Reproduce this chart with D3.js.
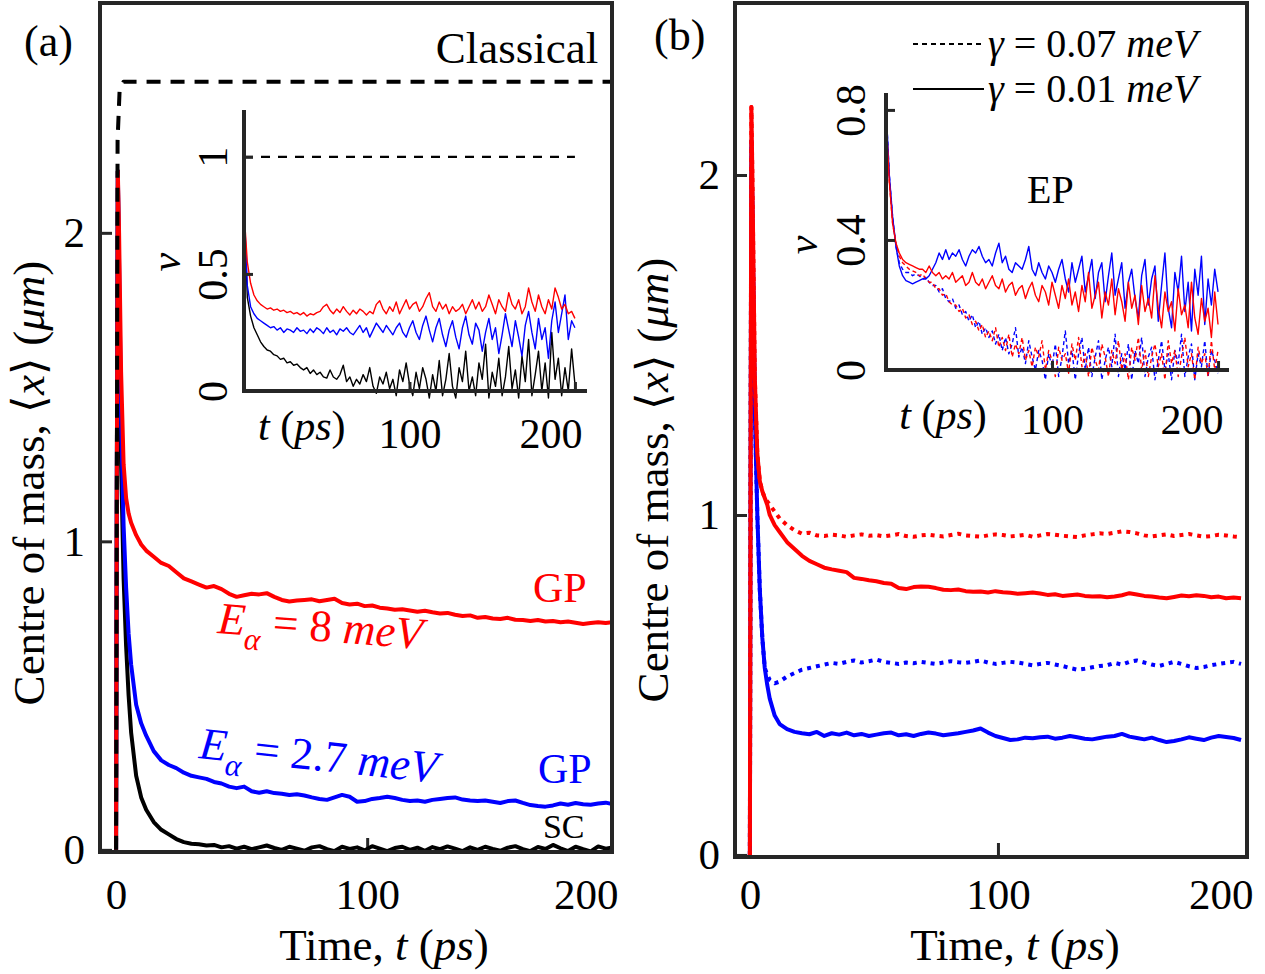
<!DOCTYPE html>
<html>
<head>
<meta charset="utf-8">
<script src="https://cdn.jsdelivr.net/npm/d3@7"></script>
<style>
  body { margin: 0; background: #fff; }
  svg { display: block; font-family: "Liberation Serif", "Times New Roman", serif; }
</style>
</head>
<body>
<svg id="fig" width="1265" height="974"></svg>
<script>
// ---------------- data ----------------
// panel (a), main axes: time (ps) and centre of mass (um)
const tMainA = [0, 0.3, 0.7, 1.2, 2, 3, 4, 5, 6, 8, 10,
  12, 15, 18, 21, 24, 27, 30, 33, 36, 39, 42, 45, 48, 51, 54, 57, 60, 63, 66, 69, 72, 75, 78, 81, 84, 87, 90,
  93, 96, 99, 102, 105, 108, 111, 114, 117, 120, 123, 126, 129, 132, 135, 138, 141, 144, 147, 150, 153, 156,
  159, 162, 165, 168, 171, 174, 177, 180, 183, 186, 189, 192, 195, 198];
const gpRedA = [0, 1.2, 2.2, 2.0, 1.55, 1.25, 1.14, 1.09, 1.06, 1.02, 0.99,
  0.97, 0.95, 0.93, 0.92, 0.90, 0.88, 0.87, 0.86, 0.85, 0.855, 0.845, 0.83, 0.82, 0.825, 0.83, 0.828, 0.832,
  0.82, 0.81, 0.805, 0.808, 0.81, 0.812, 0.806, 0.81, 0.814, 0.80, 0.795, 0.798, 0.79, 0.792, 0.785, 0.782,
  0.778, 0.78, 0.776, 0.772, 0.775, 0.77, 0.766, 0.768, 0.762, 0.758, 0.76, 0.752, 0.755, 0.75, 0.748, 0.752,
  0.746, 0.745, 0.742, 0.745, 0.74, 0.742, 0.738, 0.74, 0.736, 0.732, 0.735, 0.738, 0.735, 0.738];
const gpBlueA = [0, 1.2, 2.2, 1.9, 1.4, 1.05, 0.85, 0.70, 0.60, 0.47, 0.41,
  0.37, 0.32, 0.29, 0.275, 0.265, 0.25, 0.24, 0.235, 0.23, 0.22, 0.215, 0.205, 0.20, 0.205, 0.19, 0.185, 0.19,
  0.184, 0.182, 0.178, 0.18, 0.176, 0.17, 0.165, 0.162, 0.17, 0.178, 0.172, 0.156, 0.158, 0.165, 0.168, 0.172,
  0.168, 0.162, 0.158, 0.16, 0.156, 0.162, 0.165, 0.168, 0.17, 0.163, 0.16, 0.158, 0.16, 0.156, 0.152, 0.158,
  0.16, 0.152, 0.145, 0.142, 0.14, 0.144, 0.15, 0.146, 0.152, 0.148, 0.146, 0.15, 0.153, 0.148];
const scA = [0, 1.2, 2.2, 1.8, 1.25, 0.88, 0.66, 0.50, 0.38, 0.24, 0.17,
  0.13, 0.09, 0.065, 0.05, 0.035, 0.025, 0.02, 0.018, 0.014, 0.016, 0.008, 0.012, 0.004, 0.01, 0.002, 0.008,
  0.014, 0.006, 0.0, 0.01, 0.004, -0.003, 0.008, 0.012, 0.002, -0.004, 0.01, 0.003, 0.008, -0.002, 0.012,
  0.004, -0.004, 0.006, 0.01, 0.0, 0.007, -0.003, 0.009, 0.002, 0.011, 0.004, -0.004, 0.008, 0.0, 0.01, 0.003,
  -0.003, 0.007, 0.012, 0.002, -0.004, 0.009, 0.003, 0.016, 0.005, -0.004, 0.01, 0.002, -0.005, 0.011, 0.004, 0.008];
const tClassical = [0, 0.6, 1.4, 3, 200];
const classical = [0, 2.3, 2.46, 2.49, 2.49];

// panel (a), inset: velocity, one sample every 2 ps from t = 0 to 200
const insetDt = 2;
const vRedA = [0.77, 0.55, 0.46, 0.41, 0.385, 0.37, 0.36, 0.35, 0.355, 0.345,
  0.35, 0.34, 0.345, 0.335, 0.34, 0.33, 0.335, 0.325, 0.335, 0.32,
  0.33, 0.325, 0.335, 0.34, 0.36, 0.37, 0.345, 0.33, 0.35, 0.335,
  0.36, 0.34, 0.325, 0.345, 0.33, 0.35, 0.34, 0.325, 0.34, 0.33,
  0.37, 0.385, 0.35, 0.33, 0.36, 0.34, 0.38, 0.33, 0.36, 0.39,
  0.35, 0.37, 0.38, 0.34, 0.36, 0.395, 0.42, 0.36, 0.34, 0.38,
  0.35, 0.37, 0.33, 0.36, 0.34, 0.35, 0.37, 0.33, 0.36, 0.39,
  0.35, 0.38, 0.34, 0.36, 0.41, 0.37, 0.33, 0.39, 0.36, 0.34,
  0.42, 0.37, 0.35, 0.39, 0.33, 0.36, 0.44, 0.38, 0.34, 0.41,
  0.36, 0.33, 0.39, 0.35, 0.44, 0.40, 0.35, 0.37, 0.33, 0.34, 0.31];
const vBlueA = [0.80, 0.45, 0.36, 0.33, 0.31, 0.30, 0.29, 0.28, 0.27, 0.275,
  0.26, 0.27, 0.25, 0.265, 0.26, 0.25, 0.27, 0.255, 0.26, 0.245,
  0.265, 0.25, 0.27, 0.26, 0.245, 0.27, 0.25, 0.26, 0.24, 0.265,
  0.255, 0.27, 0.25, 0.24, 0.26, 0.28, 0.25, 0.27, 0.23, 0.26,
  0.29, 0.27, 0.25, 0.28, 0.26, 0.24, 0.27, 0.29, 0.25, 0.23,
  0.27, 0.30, 0.25, 0.22, 0.28, 0.32, 0.26, 0.21, 0.27, 0.31,
  0.24, 0.19, 0.26, 0.30, 0.23, 0.18, 0.27, 0.32, 0.24, 0.20,
  0.29, 0.26, 0.17, 0.25, 0.31, 0.22, 0.27, 0.16, 0.24, 0.33,
  0.26, 0.19, 0.30, 0.23, 0.15, 0.28, 0.34, 0.25, 0.18, 0.31,
  0.22, 0.27, 0.14, 0.30, 0.38, 0.25, 0.33, 0.41, 0.22, 0.30, 0.27];
const vBlackA = [0.80, 0.40, 0.32, 0.27, 0.24, 0.21, 0.19, 0.175, 0.17, 0.155,
  0.15, 0.135, 0.14, 0.12, 0.125, 0.11, 0.115, 0.10, 0.09, 0.10,
  0.075, 0.09, 0.07, 0.08, 0.06, 0.055, 0.09, 0.06, 0.05, 0.07,
  0.11, 0.04, 0.06, 0.02, 0.05, 0.03, 0.07, 0.04, 0.10, 0.02,
  -0.01, 0.06, 0.03, 0.08, 0.01, 0.05, -0.02, 0.09, 0.04, 0.12,
  0.03, -0.02, 0.08, 0.01, 0.10, 0.05, -0.03, 0.07, 0.0, 0.13,
  -0.02, 0.05, 0.16, 0.02, -0.03, 0.10, 0.04, 0.17, 0.0, 0.06,
  -0.02, 0.12, 0.05, 0.20, -0.03, 0.08, 0.02, 0.14, -0.02, 0.06,
  0.19, 0.01, 0.09, -0.03, 0.15, 0.04, 0.22, -0.02, 0.07, 0.17,
  0.0, 0.12, -0.03, 0.25, 0.05, 0.14, -0.02, 0.10, 0.0, 0.18, 0.03];
const classicalInset = 1; // classical velocity in the inset

// panel (b), main axes
const tMainB = [0, 0.3, 0.6, 1, 1.5, 2, 3, 4, 5, 6, 7, 8, 10, 12,
  15, 18, 21, 24, 27, 30, 33, 36, 39, 42, 45, 48, 51, 54, 57, 60, 63, 66, 69, 72, 75, 78, 81, 84, 87, 90,
  93, 96, 99, 102, 105, 108, 111, 114, 117, 120, 123, 126, 129, 132, 135, 138, 141, 144, 147, 150, 153, 156,
  159, 162, 165, 168, 171, 174, 177, 180, 183, 186, 189, 192, 195, 198];
const redSolidB = [0, 1.2, 2.2, 2.0, 1.7, 1.4, 1.18, 1.1, 1.07, 1.05, 1.03, 1.0, 0.97, 0.95,
  0.92, 0.90, 0.88, 0.865, 0.855, 0.845, 0.84, 0.836, 0.832, 0.815,
  0.812, 0.808, 0.805, 0.80, 0.798, 0.785, 0.782, 0.788, 0.79, 0.789,
  0.785, 0.78, 0.779, 0.781, 0.776, 0.774, 0.775, 0.772, 0.776, 0.773,
  0.771, 0.768, 0.77, 0.772, 0.769, 0.765, 0.767, 0.762, 0.764, 0.766,
  0.762, 0.76, 0.761, 0.758, 0.76, 0.764, 0.77, 0.766, 0.762, 0.76,
  0.757, 0.755, 0.759, 0.763, 0.761, 0.764, 0.762, 0.758, 0.76, 0.755, 0.757, 0.755];
const redDotB = [0, 1.2, 2.2, 2.0, 1.7, 1.4, 1.18, 1.1, 1.07, 1.05, 1.04, 1.03, 1.01, 0.99,
  0.97, 0.955, 0.945, 0.948, 0.94, 0.938, 0.942, 0.94, 0.936, 0.94,
  0.943, 0.939, 0.941, 0.937, 0.94, 0.944, 0.938, 0.936, 0.94, 0.942,
  0.939, 0.937, 0.941, 0.945, 0.94, 0.938, 0.936, 0.94, 0.943, 0.941,
  0.937, 0.939, 0.942, 0.936, 0.94, 0.944, 0.942, 0.939, 0.937, 0.935,
  0.94, 0.943, 0.946, 0.944, 0.948, 0.952, 0.95, 0.946, 0.94, 0.937,
  0.94, 0.943, 0.938, 0.941, 0.944, 0.94, 0.936, 0.938, 0.942, 0.94, 0.937, 0.935];
const blueSolidB = [0, 1.2, 2.1, 1.9, 1.6, 1.3, 1.0, 0.78, 0.64, 0.55, 0.50, 0.46, 0.41, 0.385,
  0.37, 0.362, 0.358, 0.355, 0.362, 0.35, 0.358, 0.354, 0.36, 0.352,
  0.356, 0.35, 0.354, 0.358, 0.36, 0.352, 0.355, 0.35, 0.356, 0.36,
  0.357, 0.352, 0.355, 0.358, 0.362, 0.366, 0.372, 0.36, 0.35, 0.344,
  0.338, 0.34, 0.345, 0.343, 0.346, 0.348, 0.342, 0.345, 0.35, 0.346,
  0.342, 0.34, 0.344, 0.348, 0.35, 0.356, 0.348, 0.344, 0.34, 0.345,
  0.338, 0.332, 0.335, 0.34, 0.346, 0.342, 0.338, 0.345, 0.35, 0.347, 0.344, 0.338];
const blueDotB = [0, 1.2, 2.1, 1.9, 1.6, 1.3, 1.0, 0.78, 0.64, 0.55, 0.53, 0.515, 0.505, 0.51,
  0.525, 0.535, 0.545, 0.55, 0.555, 0.56, 0.565, 0.562, 0.568, 0.572,
  0.566, 0.57, 0.575, 0.568, 0.565, 0.562, 0.566, 0.564, 0.568, 0.565,
  0.562, 0.566, 0.57, 0.567, 0.565, 0.568, 0.572, 0.566, 0.562, 0.565,
  0.568, 0.566, 0.562, 0.558, 0.562, 0.565, 0.56, 0.556, 0.55, 0.545,
  0.548, 0.552, 0.556, 0.558, 0.565, 0.56, 0.568, 0.572, 0.566, 0.56,
  0.556, 0.562, 0.568, 0.562, 0.555, 0.55, 0.553, 0.558, 0.562, 0.565, 0.568, 0.562];

// panel (b), inset (EP): every 2 ps from 0 to 200
const vBlueSolidB = [0.81, 0.60, 0.47, 0.38, 0.32, 0.29, 0.275, 0.27, 0.265, 0.27,
  0.275, 0.28, 0.28, 0.29, 0.31, 0.33, 0.36, 0.34, 0.37, 0.34,
  0.36, 0.35, 0.37, 0.34, 0.32, 0.35, 0.37, 0.36, 0.38, 0.35,
  0.33, 0.34, 0.32, 0.36, 0.39, 0.33, 0.35, 0.31, 0.30, 0.33,
  0.32, 0.31, 0.34, 0.38, 0.31, 0.29, 0.33, 0.30, 0.28, 0.32,
  0.30, 0.27, 0.31, 0.34, 0.28, 0.24, 0.33, 0.27, 0.31, 0.35,
  0.24, 0.29, 0.34, 0.22, 0.30, 0.33, 0.21, 0.29, 0.36, 0.23,
  0.28, 0.33, 0.19, 0.27, 0.31, 0.22, 0.16, 0.29, 0.34, 0.20,
  0.28, 0.32, 0.15, 0.26, 0.36, 0.19, 0.13, 0.30, 0.24, 0.35,
  0.18, 0.27, 0.12, 0.31, 0.23, 0.35, 0.14, 0.28, 0.20, 0.31, 0.24];
const vRedSolidB = [0.78, 0.58, 0.45, 0.39, 0.36, 0.34, 0.33, 0.325, 0.32, 0.315,
  0.31, 0.31, 0.30, 0.32, 0.30, 0.29, 0.30, 0.28, 0.29, 0.28,
  0.30, 0.27, 0.28, 0.29, 0.26, 0.27, 0.30, 0.27, 0.26, 0.28,
  0.25, 0.27, 0.29, 0.26, 0.25, 0.28, 0.24, 0.26, 0.27, 0.23,
  0.25, 0.26, 0.22, 0.25, 0.27, 0.23, 0.21, 0.26, 0.24, 0.20,
  0.27, 0.23, 0.19, 0.26, 0.22, 0.28, 0.20, 0.24, 0.18, 0.26,
  0.21, 0.30, 0.19, 0.23, 0.27, 0.16, 0.24, 0.20, 0.28, 0.17,
  0.25, 0.21, 0.15, 0.27, 0.19, 0.23, 0.14, 0.26, 0.18, 0.22,
  0.16, 0.29, 0.19, 0.13, 0.24, 0.18, 0.21, 0.12, 0.25, 0.17,
  0.20, 0.13, 0.27, 0.16, 0.11, 0.22, 0.15, 0.19, 0.10, 0.24, 0.14];
const vBlueDashB = [0.81, 0.60, 0.47, 0.38, 0.33, 0.31, 0.30, 0.30, 0.29, 0.295,
  0.29, 0.28, 0.285, 0.27, 0.26, 0.26, 0.24, 0.25, 0.22, 0.21,
  0.22, 0.19, 0.20, 0.17, 0.18, 0.15, 0.17, 0.13, 0.15, 0.11,
  0.13, 0.10, 0.12, 0.08, 0.11, 0.06, 0.10, 0.05, 0.08, 0.13,
  0.04, 0.07, 0.02, 0.09, 0.04, 0.0, 0.06, 0.03, -0.03, 0.05,
  0.01, 0.08, -0.02, 0.04, 0.12, 0.02, 0.06, -0.03, 0.05, 0.10,
  0.0, 0.07, -0.02, 0.04, 0.09, -0.03, 0.03, 0.07, 0.01, 0.11,
  -0.02, 0.05, 0.0, 0.08, -0.03, 0.06, 0.02, 0.10, -0.02, 0.04,
  0.07, -0.03, 0.03, 0.09, 0.0, 0.05, -0.03, 0.06, 0.02, 0.11,
  -0.02, 0.04, 0.08, -0.03, 0.05, 0.01, 0.09, -0.02, 0.06, 0.03, -0.01];
const vRedDashB = [0.78, 0.58, 0.45, 0.39, 0.35, 0.33, 0.32, 0.31, 0.305, 0.30,
  0.29, 0.295, 0.28, 0.27, 0.27, 0.25, 0.25, 0.23, 0.235, 0.21,
  0.20, 0.20, 0.18, 0.19, 0.16, 0.17, 0.14, 0.15, 0.12, 0.14,
  0.10, 0.12, 0.09, 0.13, 0.07, 0.10, 0.06, 0.11, 0.04, 0.08,
  0.05, 0.10, 0.03, 0.06, 0.01, 0.07, 0.04, 0.09, 0.0, 0.06,
  0.03, -0.02, 0.07, 0.03, 0.05, -0.01, 0.08, 0.03, 0.10, 0.01,
  0.05, -0.02, 0.07, 0.03, 0.0, 0.08, 0.04, -0.02, 0.06, 0.02,
  0.09, 0.0, 0.05, -0.03, 0.07, 0.03, 0.10, 0.0, 0.06, -0.02,
  0.04, 0.08, 0.01, 0.05, -0.03, 0.09, 0.02, 0.06, -0.02, 0.04,
  0.10, 0.01, 0.05, -0.03, 0.07, 0.02, 0.05, -0.02, 0.09, 0.0, 0.06];

const mainTicksX = [0, 100, 200];
const mainTicksY = [0, 1, 2];
const insetTicksX = [100, 200];
const insetTicksYA = [0, 0.5, 1];
const insetTicksYB = [0, 0.4, 0.8];
const legendValues = ["0.07", "0.01"];

// ---------------- drawing ----------------
const svg = d3.select("#fig");
const axisColor = "#262626";
const RED = "#ff0000", BLUE = "#0000ff", BLACK = "#000000";
const FS = 43;

svg.append("rect").attr("width", 1265).attr("height", 974).attr("fill", "#fff");

function pairs(ts, vs) {
  return vs.map((v, i) => [ts[i], v]).filter(d => d[0] !== undefined);
}
function uniform(vs) {
  return vs.map((v, i) => [i * insetDt, v]);
}

function styleAxis(a, size) {
  a.attr("font-family", null).attr("font-size", null);
  a.select(".domain").remove();
  a.selectAll(".tick line").attr("stroke", axisColor).attr("stroke-width", 3);
  a.selectAll(".tick text").attr("fill", "#000").style("font-size", size + "px");
}

function mainPanel(cfg) {
  const x = d3.scaleLinear().domain(cfg.xDomain).range([cfg.left, cfg.right]);
  const y = d3.scaleLinear().domain(cfg.yDomain).range([cfg.bottom, cfg.top]);
  const g = svg.append("g").attr("id", cfg.id);

  g.append("clipPath").attr("id", cfg.id + "-clip")
    .append("rect")
    .attr("x", cfg.left).attr("y", cfg.top)
    .attr("width", cfg.right - cfg.left).attr("height", cfg.bottom - cfg.top);

  const yAxis = g.append("g")
    .attr("transform", `translate(${cfg.left},0)`)
    .call(d3.axisLeft(y).tickValues(mainTicksY).tickSize(-12).tickPadding(15).tickFormat(d3.format("d")));
  const xAxis = g.append("g")
    .attr("transform", `translate(0,${cfg.bottom})`)
    .call(d3.axisBottom(x).tickValues(mainTicksX).tickSize(-14).tickPadding(cfg.xPad).tickFormat(d3.format("d")));
  styleAxis(yAxis, FS);
  styleAxis(xAxis, FS);

  // the last x label sits flush with the right edge of the box
  xAxis.selectAll(".tick").filter(d => d === 200).each(function (d) {
    d3.select(this).select("line").remove();
    d3.select(this).select("text").attr("text-anchor", "end").attr("x", cfg.right + 6 - x(d));
  });

  const lines = g.append("g").attr("clip-path", `url(#${cfg.id}-clip)`);
  return { x, y, g, lines, cfg };
}

function finishFrame(p) {
  const c = p.cfg;
  p.g.append("rect")
    .attr("x", c.left).attr("y", c.top)
    .attr("width", c.right - c.left).attr("height", c.bottom - c.top)
    .attr("fill", "none").attr("stroke", axisColor).attr("stroke-width", 4);
}

function addLine(parent, data, x, y, color, width, dash) {
  const line = d3.line().x(d => x(d[0])).y(d => y(d[1]));
  return parent.append("path")
    .datum(data)
    .attr("d", line)
    .attr("fill", "none")
    .attr("stroke", color)
    .attr("stroke-width", width)
    .attr("stroke-linejoin", "round")
    .attr("stroke-dasharray", dash || null);
}

function insetPanel(cfg) {
  const x = d3.scaleLinear().domain(cfg.xDomain).range([cfg.left, cfg.right]);
  const y = d3.scaleLinear().domain(cfg.yDomain).range([cfg.bottom, cfg.top]);
  const g = svg.append("g").attr("id", cfg.id);
  const lines = g.append("g");

  const yAxis = g.append("g")
    .attr("transform", `translate(${cfg.left},0)`)
    .call(d3.axisLeft(y).tickValues(cfg.yTicks).tickSize(-9).tickPadding(0).tickFormat(d3.format("~g")));
  yAxis.selectAll(".tick text")
    .attr("x", null).attr("dy", null)
    .attr("text-anchor", "middle")
    .attr("transform", `translate(${-cfg.yLabelPad},0) rotate(-90)`);

  const xAxis = g.append("g")
    .attr("transform", `translate(0,${cfg.bottom})`)
    .call(d3.axisBottom(x).tickValues(insetTicksX).tickSize(-9).tickPadding(cfg.xPad).tickFormat(d3.format("d")));
  xAxis.selectAll(".tick").filter(d => d === 200).select("text")
    .attr("text-anchor", "end").attr("dx", cfg.lastDx);

  styleAxis(yAxis, 42);
  styleAxis(xAxis, 42);

  // axis lines
  g.append("line").attr("x1", cfg.left).attr("x2", cfg.left)
    .attr("y1", cfg.top).attr("y2", cfg.bottom + 2)
    .attr("stroke", axisColor).attr("stroke-width", 4);
  g.append("line").attr("x1", cfg.left - 2).attr("x2", cfg.right)
    .attr("y1", cfg.bottom).attr("y2", cfg.bottom)
    .attr("stroke", axisColor).attr("stroke-width", 4);

  // variable names
  g.append("text")
    .attr("transform", `translate(${cfg.left - cfg.vPad},${y(cfg.vAt)}) rotate(-90)`)
    .attr("text-anchor", "middle")
    .style("font-size", "42px").style("font-style", "italic")
    .text("v");
  const tl = g.append("text")
    .attr("x", x(cfg.tLabelAt)).attr("y", cfg.bottom + cfg.tLabelDy)
    .style("font-size", "42px");
  tl.append("tspan").style("font-style", "italic").text("t");
  tl.append("tspan").text(" (");
  tl.append("tspan").style("font-style", "italic").text("ps");
  tl.append("tspan").text(")");

  return { x, y, g, lines };
}

function yTitle(x, y) {
  const t = svg.append("text")
    .attr("transform", `translate(${x},${y}) rotate(-90)`)
    .attr("text-anchor", "middle")
    .style("font-size", "45px");
  t.append("tspan").text("Centre of mass, \u27E8");
  t.append("tspan").style("font-style", "italic").text("x");
  t.append("tspan").text("\u27E9 (");
  t.append("tspan").style("font-style", "italic").text("\u03BCm");
  t.append("tspan").text(")");
}
function xTitle(x, y) {
  const t = svg.append("text")
    .attr("x", x).attr("y", y)
    .attr("text-anchor", "middle")
    .style("font-size", "45px");
  t.append("tspan").text("Time, ");
  t.append("tspan").style("font-style", "italic").text("t");
  t.append("tspan").text(" (");
  t.append("tspan").style("font-style", "italic").text("ps");
  t.append("tspan").text(")");
}

function energyLabel(parent, px, py, angle, value, color) {
  const t = parent.append("text")
    .attr("transform", `translate(${px},${py}) rotate(${angle})`)
    .attr("fill", color)
    .style("font-size", "45px");
  t.append("tspan").style("font-style", "italic").text("E");
  t.append("tspan").style("font-style", "italic").style("font-size", "31px").attr("dy", 14).text("\u03B1");
  t.append("tspan").attr("dy", -14).text(" = " + value + " ");
  t.append("tspan").style("font-style", "italic").text("meV");
}

// ---------- panel (a) ----------
const pa = mainPanel({
  id: "pa", left: 100, right: 612, top: 3, bottom: 852,
  xDomain: [-6.4, 197.5], yDomain: [-0.007, 2.745], xPad: 26
});
addLine(pa.lines, pairs(tMainA, scA), pa.x, pa.y, BLACK, 4);
addLine(pa.lines, pairs(tMainA, gpBlueA), pa.x, pa.y, BLUE, 4);
addLine(pa.lines, pairs(tMainA, gpRedA), pa.x, pa.y, RED, 4);
addLine(pa.lines, pairs(tClassical, classical), pa.x, pa.y, BLACK, 4, "14,10");
finishFrame(pa);

svg.append("text").attr("x", pa.x(192)).attr("y", pa.y(2.55))
  .attr("text-anchor", "end").style("font-size", "45px").text("Classical");
svg.append("text").attr("x", pa.x(166)).attr("y", pa.y(0.803))
  .attr("fill", RED).style("font-size", "42px").text("GP");
svg.append("text").attr("x", pa.x(168)).attr("y", pa.y(0.216))
  .attr("fill", BLUE).style("font-size", "42px").text("GP");
svg.append("text").attr("x", pa.x(170)).attr("y", pa.y(0.038))
  .attr("fill", BLACK).style("font-size", "34px").text("SC");
energyLabel(svg, pa.x(40.2), pa.y(0.703), 4.5, "8", RED);
energyLabel(svg, pa.x(32.7), pa.y(0.298), 6, "2.7", BLUE);

const ia = insetPanel({
  id: "ia", left: 244, right: 587, top: 110, bottom: 391,
  xDomain: [0, 207.3], yDomain: [0, 1.2], yTicks: insetTicksYA,
  yLabelPad: 17, xPad: 27, lastDx: 7, vPad: 64, vAt: 0.55, tLabelAt: 8.5, tLabelDy: 49
});
addLine(ia.lines, [[0, classicalInset], [200, classicalInset]], ia.x, ia.y, BLACK, 2.2, "9,8");
addLine(ia.lines, uniform(vBlackA), ia.x, ia.y, BLACK, 1.4);
addLine(ia.lines, uniform(vBlueA), ia.x, ia.y, BLUE, 1.4);
addLine(ia.lines, uniform(vRedA), ia.x, ia.y, RED, 1.4);

svg.append("text").attr("x", 24).attr("y", 56).style("font-size", "44px").text("(a)");
yTitle(44, 483);
xTitle(384, 960);

// ---------- panel (b) ----------
const pb = mainPanel({
  id: "pb", left: 735, right: 1247, top: 3, bottom: 857,
  xDomain: [-6, 200.4], yDomain: [-0.006, 2.506], xPad: 21
});
addLine(pb.lines, pairs(tMainB, blueDotB), pb.x, pb.y, BLUE, 4, "4,5");
addLine(pb.lines, pairs(tMainB, blueSolidB), pb.x, pb.y, BLUE, 4);
addLine(pb.lines, pairs(tMainB, redDotB), pb.x, pb.y, RED, 4, "4,5");
addLine(pb.lines, pairs(tMainB, redSolidB), pb.x, pb.y, RED, 4);
finishFrame(pb);

const ib = insetPanel({
  id: "ib", left: 886, right: 1229, top: 93, bottom: 370,
  xDomain: [0, 206.6], yDomain: [0, 0.852], yTicks: insetTicksYB,
  yLabelPad: 21, xPad: 34, lastDx: 5, vPad: 69, vAt: 0.385, tLabelAt: 8, tLabelDy: 59
});
addLine(ib.lines, uniform(vBlueDashB), ib.x, ib.y, BLUE, 1.4, "4,3");
addLine(ib.lines, uniform(vRedDashB), ib.x, ib.y, RED, 1.4, "4,3");
addLine(ib.lines, uniform(vBlueSolidB), ib.x, ib.y, BLUE, 1.4);
addLine(ib.lines, uniform(vRedSolidB), ib.x, ib.y, RED, 1.4);
svg.append("text").attr("x", ib.x(85)).attr("y", ib.y(0.514))
  .style("font-size", "40px").text("EP");

// legend: dashed = 0.07 meV, solid = 0.01 meV
const legend = svg.append("g");
const legendDash = ["5,4", null];
const legendRowY = [44, 89];
legendValues.forEach((val, i) => {
  legend.append("line").attr("x1", 913).attr("x2", 984)
    .attr("y1", legendRowY[i]).attr("y2", legendRowY[i])
    .attr("stroke", BLACK).attr("stroke-width", 2)
    .attr("stroke-dasharray", legendDash[i]);
  const t = legend.append("text").attr("x", 988).attr("y", legendRowY[i] + 13)
    .style("font-size", "40px");
  t.append("tspan").style("font-style", "italic").text("\u03B3");
  t.append("tspan").text(" = " + val + " ");
  t.append("tspan").style("font-style", "italic").text("meV");
});

svg.append("text").attr("x", 654).attr("y", 50).style("font-size", "44px").text("(b)");
yTitle(668, 480);
xTitle(1015, 960);
</script>
</body>
</html>
